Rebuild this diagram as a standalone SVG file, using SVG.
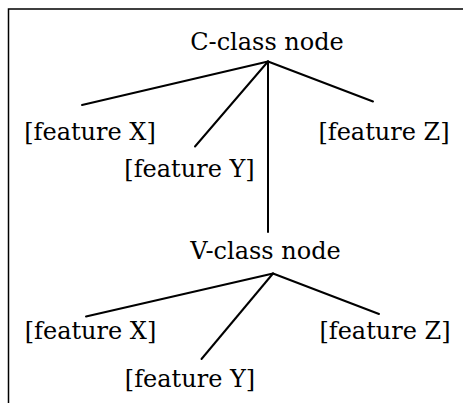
<svg xmlns="http://www.w3.org/2000/svg" width="463" height="403" viewBox="0 0 463 403">
<style>
.t{font-family:"DejaVu Serif","Liberation Serif",serif;font-size:24px;fill:#000;text-anchor:middle}
.e{stroke:#000;stroke-width:2;fill:none;stroke-linecap:round}
.b{stroke:#000;stroke-width:1.5;fill:none}
</style>
<rect width="463" height="403" fill="#fff"/>
<path class="b" d="M8.5,403 V9 H463"/>
<g id="connectors">
<line class="e" x1="268" y1="61.5" x2="82" y2="105"/>
<line class="e" x1="268" y1="61.5" x2="195" y2="146.5"/>
<line class="e" x1="268" y1="61.5" x2="268" y2="232"/>
<line class="e" x1="268" y1="61.5" x2="373" y2="101.5"/>
<line class="e" x1="273" y1="273.5" x2="86" y2="316.5"/>
<line class="e" x1="273" y1="273.5" x2="201.5" y2="359"/>
<line class="e" x1="273" y1="273.5" x2="379" y2="314"/>
</g>
<g id="c-node"><text class="t" x="267" y="49.5">C-class node</text></g>
<g id="c-x"><text class="t" x="90" y="140">[feature X]</text></g>
<g id="c-y"><text class="t" x="189.5" y="176.5">[feature Y]</text></g>
<g id="c-z"><text class="t" x="384" y="140">[feature Z]</text></g>
<g id="v-node"><text class="t" x="265.5" y="258.5">V-class node</text></g>
<g id="v-x"><text class="t" x="90.5" y="338.5">[feature X]</text></g>
<g id="v-y"><text class="t" x="190" y="386.5">[feature Y]</text></g>
<g id="v-z"><text class="t" x="385" y="338.5">[feature Z]</text></g>
</svg>
